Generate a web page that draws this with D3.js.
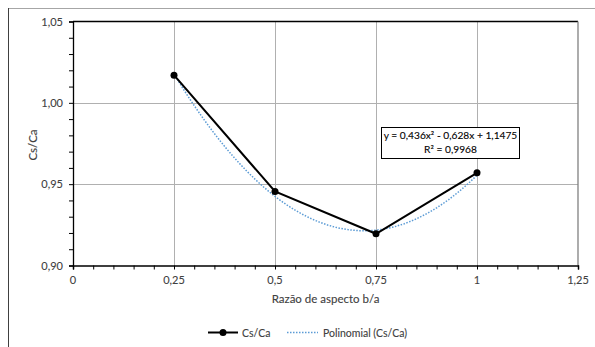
<!DOCTYPE html>
<html>
<head>
<meta charset="utf-8">
<script src="https://cdn.jsdelivr.net/npm/d3@7"></script>
<style>
  html, body { margin: 0; padding: 0; background: #fff; }
  svg { display: block; }
  text { font-family: Lato, "Liberation Sans", Arial, sans-serif; fill: #404040; stroke: #404040; stroke-width: 0.1px; }
</style>
</head>
<body>
<svg id="chart" width="595" height="347"></svg>
<script>
// Aspect ratio b/a versus Cs/Ca
const ratios = [0.25, 0.5, 0.75, 1];
const csca = [1.017, 0.9455, 0.9195, 0.957];
// Quadratic trendline coefficients [a, b, c] for y = a·x² + b·x + c
const trendCoef = [0.436, -0.628, 1.1475];
const trendLabel = ["y = 0,436x² - 0,628x + 1,1475", "R² = 0,9968"];
const xTicks = [0, 0.25, 0.5, 0.75, 1, 1.25];
const yTicks = [0.90, 0.95, 1.00, 1.05];
const seriesNames = ["Cs/Ca", "Polinomial (Cs/Ca)"];

const svg = d3.select("#chart");
const fmt = v => String(v).replace(".", ",");
const fmtY = v => v.toFixed(2).replace(".", ",");

const x = d3.scaleLinear().domain([0, 1.25]).range([73, 578]);
const y = d3.scaleLinear().domain([0.90, 1.05]).range([265.5, 21.5]);

// outer chart frame
svg.append("line").attr("x1", 8).attr("x2", 600).attr("y1", 8.5).attr("y2", 8.5)
  .attr("stroke", "#a6a6a6").attr("stroke-width", 1);
svg.append("line").attr("x1", 8.5).attr("x2", 8.5).attr("y1", 8).attr("y2", 350)
  .attr("stroke", "#404040").attr("stroke-width", 1);

// gridlines
svg.append("g").selectAll("line").data(xTicks.slice(1, -1)).join("line")
  .attr("x1", d => Math.round(x(d)) + 0.5).attr("x2", d => Math.round(x(d)) + 0.5)
  .attr("y1", y(1.05)).attr("y2", y(0.90))
  .attr("stroke", "#b0b0b0").attr("stroke-width", 1);
svg.append("g").selectAll("line").data(yTicks.slice(1, -1)).join("line")
  .attr("x1", x(0)).attr("x2", x(1.25))
  .attr("y1", d => Math.round(y(d)) + 0.5).attr("y2", d => Math.round(y(d)) + 0.5)
  .attr("stroke", "#b0b0b0").attr("stroke-width", 1);

// plot frame top/right
svg.append("line").attr("x1", x(0)).attr("x2", x(1.25)).attr("y1", y(1.05)).attr("y2", y(1.05))
  .attr("stroke", "#000").attr("stroke-width", 1.3);
svg.append("line").attr("x1", x(1.25)).attr("x2", x(1.25)).attr("y1", y(1.05)).attr("y2", y(0.90))
  .attr("stroke", "#808080").attr("stroke-width", 1.3);

// axes with minor ticks
const xMinor = d3.range(0, 1.2501, 0.05);
const yMinor = d3.range(0.90, 1.0501, 0.01);

const xAxisG = svg.append("g").attr("transform", `translate(0,${y(0.90)})`);
xAxisG.call(d3.axisBottom(x).tickValues(xMinor).tickSize(4).tickFormat(""));
xAxisG.call(g => g.selectAll(".tick text").remove());
xAxisG.select(".domain").attr("stroke", "#000").attr("stroke-width", 1.5);
xAxisG.selectAll(".tick line").attr("stroke", "#000");
svg.append("g").selectAll("text").data(xTicks).join("text")
  .attr("x", d => x(d)).attr("y", y(0.90) + 18)
  .attr("text-anchor", "middle").attr("font-size", 11)
  .text(fmt);

const yAxisG = svg.append("g").attr("transform", `translate(${x(0)},0)`);
yAxisG.call(d3.axisLeft(y).tickValues(yMinor).tickSize(4).tickFormat(""));
yAxisG.select(".domain").attr("stroke", "#000").attr("stroke-width", 1.3);
yAxisG.selectAll(".tick line").attr("stroke", "#000");
svg.append("g").selectAll("text").data(yTicks).join("text")
  .attr("x", x(0) - 10).attr("y", d => y(d) + 4)
  .attr("text-anchor", "end").attr("font-size", 11)
  .text(fmtY);

// axis titles
svg.append("text").attr("x", 325.5).attr("y", 303)
  .attr("text-anchor", "middle").attr("font-size", 11.5)
  .text("Razão de aspecto b/a");
svg.append("text")
  .attr("transform", `translate(37,145) rotate(-90)`)
  .attr("text-anchor", "middle").attr("font-size", 11.5)
  .text("Cs/Ca");

// trendline across the data range
const poly = v => trendCoef[0] * v * v + trendCoef[1] * v + trendCoef[2];
const trendX = d3.range(ratios[0], ratios[ratios.length - 1] + 1e-9, 0.01);
svg.append("path")
  .datum(trendX)
  .attr("fill", "none").attr("stroke", "#5b9bd5").attr("stroke-width", 1.5)
  .attr("stroke-dasharray", "1.5,1.5")
  .attr("d", d3.line().x(d => x(d)).y(d => y(poly(d))));

// data series
const pts = ratios.map((r, i) => [r, csca[i]]);
svg.append("path")
  .datum(pts)
  .attr("fill", "none").attr("stroke", "#000").attr("stroke-width", 2)
  .attr("d", d3.line().x(d => x(d[0])).y(d => y(d[1])));
svg.append("g").selectAll("circle").data(pts).join("circle")
  .attr("cx", d => x(d[0])).attr("cy", d => y(d[1])).attr("r", 3.5)
  .attr("fill", "#000");

// equation label
const eq = svg.append("g");
eq.append("rect").attr("x", 381.5).attr("y", 127.5).attr("width", 138).attr("height", 31)
  .attr("fill", "#fff").attr("stroke", "#000").attr("stroke-width", 1);
eq.selectAll("text").data(trendLabel).join("text")
  .attr("x", 450.5).attr("y", (d, i) => 139 + i * 14)
  .attr("text-anchor", "middle").attr("font-size", 10.2)
  .style("fill", "#000").style("stroke", "#000")
  .text(d => d);

// legend
const lg = svg.append("g");
const ly = 332.5;
lg.append("line").attr("x1", 208).attr("x2", 238).attr("y1", ly).attr("y2", ly)
  .attr("stroke", "#000").attr("stroke-width", 2);
lg.append("circle").attr("cx", 223).attr("cy", ly).attr("r", 3.5).attr("fill", "#000");
lg.append("text").attr("x", 242).attr("y", ly + 4).attr("font-size", 10.5).text(seriesNames[0]);
lg.append("line").attr("x1", 287).attr("x2", 318).attr("y1", ly).attr("y2", ly)
  .attr("stroke", "#5b9bd5").attr("stroke-width", 1.5).attr("stroke-dasharray", "1.5,1.5");
lg.append("text").attr("x", 323).attr("y", ly + 4).attr("font-size", 10.5).text(seriesNames[1]);
</script>
</body>
</html>
